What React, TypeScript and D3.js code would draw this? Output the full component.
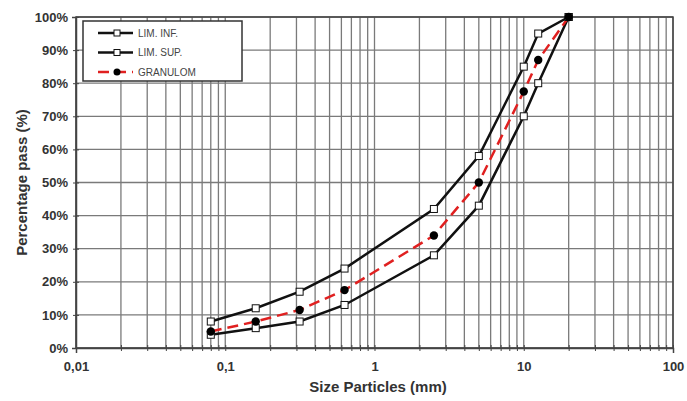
import React, { useEffect, useRef } from 'react';
import * as d3 from 'd3';

// sieve sizes (mm)
const sizes = [0.08, 0.16, 0.315, 0.63, 2.5, 5, 10, 12.5, 20];
const limInf = [4, 6, 8, 13, 28, 43, 70, 80, 100];
const limSup = [8, 12, 17, 24, 42, 58, 85, 95, 100];
const granulom = [5, 8, 11.5, 17.5, 34, 50, 77.5, 87, 100];

const xTicks = [0.01, 0.1, 1, 10, 100];
const xTickLabels = ['0,01', '0,1', '1', '10', '100'];
const yTicks = [0, 10, 20, 30, 40, 50, 60, 70, 80, 90, 100];
const legendNames = ['LIM. INF.', 'LIM. SUP.', 'GRANULOM'];

const font = '"Liberation Sans Narrow", "Liberation Sans", Arial, sans-serif';

export default function App() {
  const ref = useRef<SVGSVGElement>(null);

  useEffect(() => {
    const width = 687;
    const height = 401;
    const margin = { top: 17, right: 14, bottom: 53, left: 76 };

    const svg = d3.select(ref.current);
    svg.selectAll('*').remove();

    const x = d3
      .scaleLog()
      .domain([0.01, 100])
      .range([margin.left, width - margin.right]);

    const y = d3
      .scaleLinear()
      .domain([0, 100])
      .range([height - margin.bottom, margin.top]);

    svg.append('rect').attr('width', width).attr('height', height).attr('fill', '#fff');

    // minor + major vertical grid
    const minor: number[] = [];
    for (let e = -2; e < 2; e++) {
      for (let m = 1; m < 10; m++) minor.push(m * Math.pow(10, e));
    }
    minor.push(100);

    svg
      .append('g')
      .selectAll('line')
      .data(minor)
      .join('line')
      .attr('x1', (d) => x(d))
      .attr('x2', (d) => x(d))
      .attr('y1', y(0))
      .attr('y2', y(100))
      .attr('stroke', '#7a7a7a')
      .attr('stroke-width', 1.3);

    svg
      .append('g')
      .selectAll('line')
      .data(yTicks)
      .join('line')
      .attr('x1', x(0.01))
      .attr('x2', x(100))
      .attr('y1', (d) => y(d))
      .attr('y2', (d) => y(d))
      .attr('stroke', '#7a7a7a')
      .attr('stroke-width', 1.3);

    // frame
    svg
      .append('rect')
      .attr('x', x(0.01))
      .attr('y', y(100))
      .attr('width', x(100) - x(0.01))
      .attr('height', y(0) - y(100))
      .attr('fill', 'none')
      .attr('stroke', '#444')
      .attr('stroke-width', 1.5);

    // axes
    const xAxis = svg
      .append('g')
      .attr('transform', `translate(0, ${y(0)})`)
      .call(
        d3
          .axisBottom(x)
          .tickValues(minor)
          .tickSize(5)
          .tickFormat((d) => {
            const i = xTicks.indexOf(+d);
            return i >= 0 ? xTickLabels[i] : '';
          })
      );
    xAxis.select('.domain').attr('stroke', '#444').attr('stroke-width', 1.5);
    xAxis.selectAll('.tick line').attr('stroke', '#444').attr('y1', -3).attr('y2', 3);
    xAxis
      .selectAll('text')
      .attr('dy', 0)
      .attr('y', 23)
      .attr('fill', '#333')
      .style('font-family', font)
      .style('font-size', '13px')
      .style('font-weight', 'bold');

    const yAxis = svg
      .append('g')
      .attr('transform', `translate(${x(0.01)}, 0)`)
      .call(
        d3
          .axisLeft(y)
          .tickValues(yTicks)
          .tickSize(4)
          .tickFormat((d) => `${d}%`)
      );
    yAxis.select('.domain').attr('stroke', '#444').attr('stroke-width', 1.5);
    yAxis.selectAll('.tick line').attr('stroke', '#444').attr('x1', -3).attr('x2', 3);
    yAxis
      .selectAll('text')
      .attr('x', -8)
      .attr('fill', '#333')
      .style('font-family', font)
      .style('font-size', '13px')
      .style('font-weight', 'bold');

    const line = d3
      .line<[number, number]>()
      .x((d) => x(d[0]))
      .y((d) => y(d[1]));

    const limits = [limInf, limSup];
    limits.forEach((vals) => {
      const pts = sizes.map((s, i) => [s, vals[i]] as [number, number]);
      svg
        .append('path')
        .datum(pts)
        .attr('fill', 'none')
        .attr('stroke', '#111')
        .attr('stroke-width', 2.5)
        .attr('d', line);
    });

    const gPts = sizes.map((s, i) => [s, granulom[i]] as [number, number]);
    svg
      .append('path')
      .datum(gPts)
      .attr('fill', 'none')
      .attr('stroke', '#e02020')
      .attr('stroke-width', 2.5)
      .attr('stroke-dasharray', '11 6')
      .attr('d', line);

    limits.forEach((vals) => {
      svg
        .append('g')
        .selectAll('rect')
        .data(sizes.map((s, i) => [s, vals[i]]))
        .join('rect')
        .attr('x', (d) => x(d[0]) - 3.5)
        .attr('y', (d) => y(d[1]) - 3.5)
        .attr('width', 7)
        .attr('height', 7)
        .attr('fill', '#fff')
        .attr('stroke', '#111')
        .attr('stroke-width', 1);
    });

    svg
      .append('g')
      .selectAll('circle')
      .data(gPts)
      .join('circle')
      .attr('cx', (d) => x(d[0]))
      .attr('cy', (d) => y(d[1]))
      .attr('r', 4.2)
      .attr('fill', '#000');

    // legend
    const lg = svg.append('g').attr('transform', 'translate(83, 21)');
    lg.append('rect')
      .attr('width', 159)
      .attr('height', 60)
      .attr('fill', '#fff')
      .attr('stroke', '#333')
      .attr('stroke-width', 1.5);

    legendNames.forEach((name, i) => {
      const ly = 12 + i * 19.5;
      const row = lg.append('g').attr('transform', `translate(0, ${ly})`);
      if (i < 2) {
        row.append('line').attr('x1', 15).attr('x2', 50).attr('stroke', '#111').attr('stroke-width', 2.5);
        row.append('rect').attr('x', 31).attr('y', -3).attr('width', 6).attr('height', 6).attr('fill', '#fff').attr('stroke', '#111');
      } else {
        row.append('line').attr('x1', 15).attr('x2', 50).attr('stroke', '#e02020').attr('stroke-width', 2.5).attr('stroke-dasharray', '11 6');
        row.append('circle').attr('cx', 34).attr('r', 3.5).attr('fill', '#000');
      }
      row
        .append('text')
        .attr('x', 55)
        .attr('y', 3.5)
        .attr('fill', '#444')
        .style('font-family', font)
        .style('font-size', '10px')
        .text(name);
    });

    // axis titles
    svg
      .append('text')
      .attr('x', 378)
      .attr('y', 392)
      .attr('text-anchor', 'middle')
      .attr('fill', '#333')
      .style('font-family', font)
      .style('font-size', '15px')
      .style('font-weight', 'bold')
      .text('Size Particles (mm)');

    svg
      .append('text')
      .attr('transform', 'rotate(-90)')
      .attr('x', -(y(0) + y(100)) / 2)
      .attr('y', 27)
      .attr('text-anchor', 'middle')
      .attr('fill', '#333')
      .style('font-family', font)
      .style('font-size', '15px')
      .style('font-weight', 'bold')
      .text('Percentage pass (%)');
  }, []);

  return (
    <svg
      ref={ref}
      width={687}
      height={401}
      style={{ position: 'absolute', left: 0, top: 0, display: 'block' }}
    />
  );
}
